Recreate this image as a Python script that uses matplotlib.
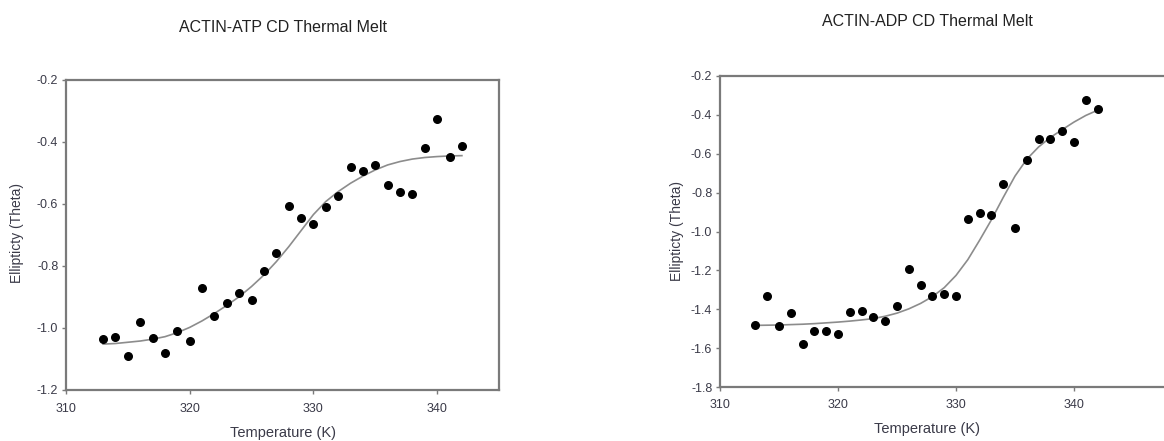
import matplotlib.pyplot as plt

plt.rcParams['font.family'] = ['Liberation Sans', 'DejaVu Sans']

# температуры (K)
temp = list(range(313, 343))

# ACTIN-ATP: точки и кривая подгонки
atp_points = [-1.035, -1.029, -1.091, -0.982, -1.032, -1.082, -1.011, -1.042, -0.870, -0.960,
              -0.919, -0.887, -0.911, -0.817, -0.757, -0.608, -0.645, -0.663, -0.611, -0.573,
              -0.482, -0.495, -0.475, -0.540, -0.561, -0.568, -0.419, -0.326, -0.447, -0.412]
atp_fit = [-1.052, -1.050, -1.046, -1.042, -1.036, -1.028, -1.015, -0.998, -0.977, -0.953,
           -0.927, -0.899, -0.866, -0.829, -0.786, -0.738, -0.686, -0.634, -0.592, -0.560,
           -0.533, -0.510, -0.490, -0.474, -0.463, -0.455, -0.450, -0.447, -0.445, -0.444]

# ACTIN-ADP: точки и кривая подгонки
adp_points = [-1.480, -1.330, -1.485, -1.420, -1.580, -1.511, -1.511, -1.526, -1.415, -1.410,
              -1.442, -1.461, -1.382, -1.191, -1.277, -1.330, -1.322, -1.333, -0.935, -0.903,
              -0.916, -0.757, -0.982, -0.633, -0.523, -0.523, -0.484, -0.539, -0.324, -0.372]
adp_fit = [-1.483, -1.482, -1.481, -1.479, -1.477, -1.474, -1.470, -1.466, -1.461, -1.455,
           -1.448, -1.436, -1.420, -1.398, -1.370, -1.335, -1.289, -1.226, -1.145, -1.045,
           -0.940, -0.825, -0.715, -0.628, -0.565, -0.516, -0.476, -0.437, -0.403, -0.376]

x_ticks = [310, 320, 330, 340]
atp_yticks = [-1.2, -1.0, -0.8, -0.6, -0.4, -0.2]
adp_yticks = [-1.8, -1.6, -1.4, -1.2, -1.0, -0.8, -0.6, -0.4, -0.2]

W, H = 1164, 441
fig = plt.figure(figsize=(W / 100, H / 100), dpi=100)

text_col = '#3a3a48'
spine_col = '#7a7a7a'


def style(ax):
    for s in ax.spines.values():
        s.set_color(spine_col)
        s.set_linewidth(1.6)
    ax.tick_params(direction='out', length=3, width=1, color=spine_col,
                   labelsize=9, labelcolor=text_col, pad=2.5)
    ax.tick_params(axis='x', pad=6)


# левый график
ax1 = fig.add_axes([66 / W, 1 - 390 / H, 433 / W, 310 / H])
ax1.plot(temp, atp_fit, color='#8c8c8c', lw=1.2, zorder=2)
ax1.scatter(temp, atp_points, s=30, color='black', zorder=3)
ax1.set_xlim(310, 345)
ax1.set_ylim(-1.2, -0.2)
ax1.set_xticks(x_ticks)
ax1.set_yticks(atp_yticks)
ax1.set_yticklabels(['%.1f' % v for v in atp_yticks])
style(ax1)
fig.text(283 / W, 1 - 27 / H, 'ACTIN-ATP CD Thermal Melt', ha='center', va='center',
         fontsize=11.5, color='#222222')
fig.text(283 / W, 1 - 433 / H, 'Temperature (K)', ha='center', va='center',
         fontsize=10.5, color=text_col)
fig.text(17 / W, 1 - 233 / H, 'Ellipticty (Theta)', ha='center', va='center',
         rotation=90, fontsize=10, color=text_col)

# правый график (обрезан справа)
ax2 = fig.add_axes([720 / W, 1 - 387 / H, 472 / W, 311 / H])
ax2.plot(temp, adp_fit, color='#8c8c8c', lw=1.2, zorder=2)
ax2.scatter(temp, adp_points, s=30, color='black', zorder=3)
ax2.set_xlim(310, 350)
ax2.set_ylim(-1.8, -0.2)
ax2.set_xticks(x_ticks)
ax2.set_yticks(adp_yticks)
ax2.set_yticklabels(['%.1f' % v for v in adp_yticks])
style(ax2)
fig.text(927 / W, 1 - 22 / H, 'ACTIN-ADP CD Thermal Melt', ha='center', va='center',
         fontsize=11.5, color='#222222')
fig.text(927 / W, 1 - 429 / H, 'Temperature (K)', ha='center', va='center',
         fontsize=10.5, color=text_col)
fig.text(677 / W, 1 - 231 / H, 'Ellipticty (Theta)', ha='center', va='center',
         rotation=90, fontsize=10, color=text_col)

fig.savefig('out.png', dpi=100)
